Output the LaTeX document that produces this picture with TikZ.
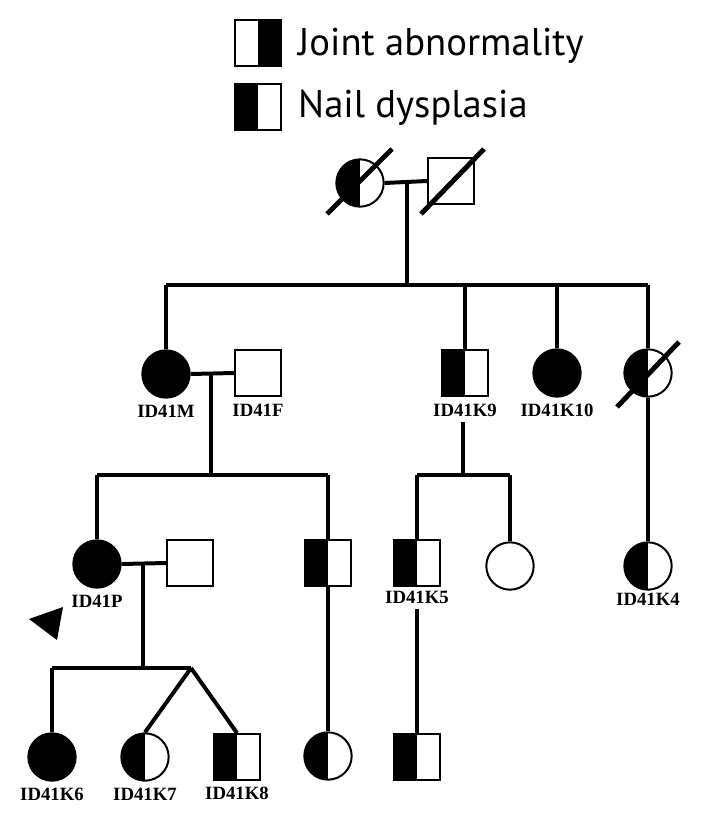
\documentclass[tikz,border=0pt]{standalone}
\usepackage{fontspec}
\setmainfont{Liberation Serif}
\newfontfamily\legendfont{PT Sans}
\usetikzlibrary{calc,positioning}

\begin{document}
\begin{tikzpicture}[x=0.03cm, y=-0.03cm,
    person/.style={draw, line width=1.7pt, inner sep=0pt},
    female/.style={person, circle, minimum size=1.42cm},
    male/.style={person, rectangle, minimum size=1.38cm},
    lefthalf/.style={path picture={\fill (path picture bounding box.south west) rectangle (path picture bounding box.north);}},
    righthalf/.style={path picture={\fill (path picture bounding box.south east) rectangle (path picture bounding box.north);}},
    affected/.style={fill=black},
    link/.style={line width=3.4pt},
    deceased/.style={line width=4.2pt},
    tag/.style={font=\bfseries\fontsize{16}{16}\selectfont, inner sep=0pt},
    legend/.style={font=\legendfont\fontsize{33}{33}\selectfont, inner sep=0pt}
]
    \useasboundingbox (0,0) rectangle (702,818);

    % Legenda
    \node[male, righthalf] (ja) at (258,43) {};
    \node[legend, anchor=base west] (jatext) at (298,56) {Joint abnormality};
    \node[male, lefthalf] (nd) at (258,107) {};
    \node[legend, anchor=base west] (ndtext) at (298,118) {Nail dysplasia};

    % Generazione I
    \node[female, lefthalf] (gm) at (360,183) {};
    \node[male] (gf) at (451,181) {};
    \draw[link] (gm.east) -- (gf.west);
    \draw[deceased] ($(gm)+(-33,31)$) -- ($(gm)+(32,-34)$);
    \draw[deceased] ($(gf)+(-30,33)$) -- ($(gf)+(33,-32)$);
    \coordinate (top) at (407,181);
    \coordinate (sib1) at (407,285);

    % Generazione II
    \node[female, affected] (m) at (166,374) {};
    \node[male] (f) at (258,373) {};
    \node[male, lefthalf] (k9) at (465,373) {};
    \node[female, affected] (k10) at (557,373) {};
    \node[female, lefthalf] (d) at (648,373) {};
    \node[tag, below=5.5pt of m] (tm) {ID41M};
    \node[tag, below=5.5pt of f] (tf) {ID41F};
    \node[tag, below=5.5pt of k9] (tk9) {ID41K9};
    \node[tag, below=5.5pt of k10] (tk10) {ID41K10};

    \draw[link] (top) -- (sib1);
    \draw[link] (sib1 -| m) -- (sib1 -| d);
    \draw[link] (sib1 -| m) -- (m.north);
    \draw[link] (sib1 -| k9) -- (k9.north);
    \draw[link] (sib1 -| k10) -- (k10.north);
    \draw[link] (sib1 -| d) -- (d.north);
    \draw[deceased] ($(d)+(-31,34)$) -- ($(d)+(31,-31)$);

    % Generazione III
    \node[female, affected] (p) at (97,564) {};
    \node[male] (ps) at (190,563) {};
    \node[male, lefthalf] (s3) at (328,563) {};
    \node[male, lefthalf] (k5) at (417,563) {};
    \node[female] (c3) at (510,566) {};
    \node[female, lefthalf] (k4) at (648,566) {};
    \node[tag, below=5.5pt of p] (tp) {ID41P};
    \node[tag, below=3pt of k5] (tk5) {ID41K5};
    \node[tag, below=2pt of k4] (tk4) {ID41K4};

    \coordinate (mf) at (211,372);
    \coordinate (sib2) at (211,475);
    \draw[link] (m.east) -- (f.west);
    \draw[link] (mf) -- (sib2);
    \draw[link] (sib2 -| p) -- (sib2 -| s3);
    \draw[link] (sib2 -| p) -- (p.north);
    \draw[link] (sib2 -| s3) -- (s3.north);

    \coordinate (sib3) at (463,475);
    \draw[link] ([yshift=-5pt]tk9.south -| sib3) -- (sib3);
    \draw[link] (sib3 -| k5) -- (sib3 -| c3);
    \draw[link] (sib3 -| k5) -- (k5.north);
    \draw[link] (sib3 -| c3) -- (c3.north);
    \draw[link] (d.south) -- (k4.north);

    % Probando
    \fill (29,619) -- (63,607) -- (57,640) -- cycle;

    % Generazione IV
    \node[female, affected] (k6) at (52,757) {};
    \node[female, lefthalf] (k7) at (145,757) {};
    \node[male, lefthalf] (k8) at (237,757) {};
    \node[female, lefthalf] (c4) at (328,756) {};
    \node[male, lefthalf] (s4) at (417,757) {};
    \node[tag, below=5pt of k6] (tk6) {ID41K6};
    \node[tag, below=5pt of k7] (tk7) {ID41K7};
    \node[tag, below=5pt of k8] (tk8) {ID41K8};

    \coordinate (pp) at (143,563);
    \coordinate (sib4) at (143,668);
    \coordinate (twin) at (191,668);
    \draw[link] (p.east) -- (ps.west);
    \draw[link] (pp) -- (sib4);
    \draw[link] (sib4 -| k6) -- (twin);
    \draw[link] (sib4 -| k6) -- (k6.north);
    \draw[link] (twin) -- (k7.north);
    \draw[link] (twin) -- (k8.north);
    \draw[link] (s3.south) -- (c4.north);
    \draw[link] ([yshift=-5pt]tk5.south) -- (s4.north);

\end{tikzpicture}
\end{document}
